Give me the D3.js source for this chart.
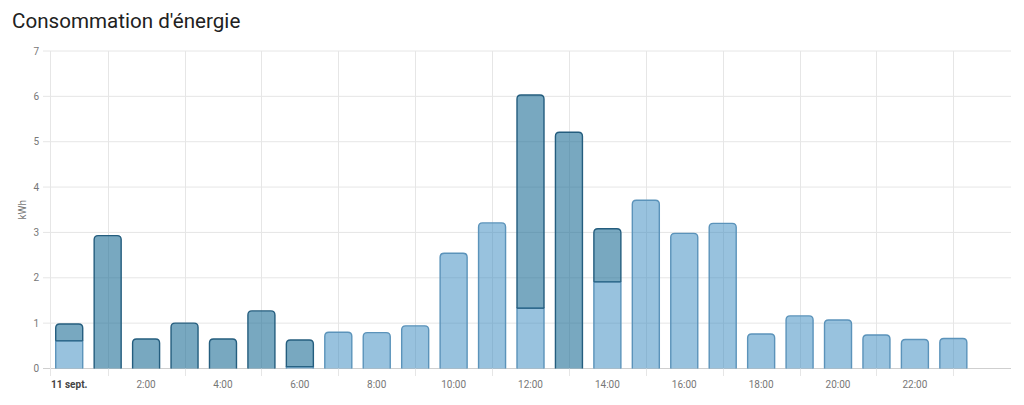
<!DOCTYPE html>
<html><head><meta charset="utf-8">
<script src="https://cdn.jsdelivr.net/npm/d3@7"></script>
<style>
html,body{margin:0;padding:0;background:#fff;}
svg{display:block;font-family:Roboto,"Noto Sans",sans-serif;}
</style></head>
<body>
<svg id="c" width="1024" height="405"></svg>
<script>
const title = "Consommation d'énergie";
const hours = d3.range(0, 24);
// light (lower) segment and dark (upper) segment values, kWh
const lightValues = [0.61, 0, 0, 0, 0, 0, 0.04, 0.80, 0.79, 0.94, 2.54, 3.21, 1.33, 0, 1.91, 3.71, 2.98, 3.20, 0.76, 1.16, 1.07, 0.74, 0.64, 0.66];
const darkValues  = [0.37, 2.93, 0.65, 1.00, 0.65, 1.27, 0.59, 0, 0, 0, 0, 0, 4.70, 5.21, 1.17, 0, 0, 0, 0, 0, 0, 0, 0, 0];
const yTicks = [0, 1, 2, 3, 4, 5, 6, 7];
const xTickHours = [0, 2, 4, 6, 8, 10, 12, 14, 16, 18, 20, 22];
const xTickLabels = ["11 sept.", "2:00", "4:00", "6:00", "8:00", "10:00", "12:00", "14:00", "16:00", "18:00", "20:00", "22:00"];
const gridHours = [-0.5, 1, 3, 5, 7, 9, 11, 13, 15, 17, 19, 21, 23];
const yLabel = "kWh";

const svg = d3.select("#c");
const x = d3.scaleLinear().domain([-0.5, 24.5]).range([50, 1011]);
const y = d3.scaleLinear().domain([0, 7]).range([368.5, 51]);
const barW = 27;

svg.append("text").attr("x", 12).attr("y", 28).attr("font-size", 20.6)
  .attr("fill", "#212121").text(title);

// horizontal grid
const gy = svg.append("g");
gy.selectAll("line").data(yTicks).join("line")
  .attr("x1", 43).attr("x2", 1011)
  .attr("y1", d => y(d)).attr("y2", d => y(d))
  .attr("stroke", d => d === 0 ? "#cfcfcf" : "#e6e6e6").attr("stroke-width", 1);
gy.selectAll("text").data(yTicks).join("text")
  .attr("x", 39).attr("y", d => y(d) + 3.5).attr("text-anchor", "end")
  .attr("font-size", 10).attr("fill", "#777").text(d => d);

// vertical grid
svg.append("g").selectAll("line").data(gridHours).join("line")
  .attr("x1", d => Math.round(x(d)) + 0.5).attr("x2", d => Math.round(x(d)) + 0.5)
  .attr("y1", 51).attr("y2", 376)
  .attr("stroke", "#e6e6e6").attr("stroke-width", 1);

svg.append("text").attr("transform", `translate(26,${(y(0)+y(7))/2}) rotate(-90)`)
  .attr("text-anchor", "middle").attr("font-size", 10).attr("fill", "#777").text(yLabel);

// x labels
svg.append("g").selectAll("text").data(xTickHours).join("text")
  .attr("x", d => x(d)).attr("y", 388).attr("text-anchor", "middle")
  .attr("font-size", 10)
  .attr("font-weight", (d, i) => i === 0 ? "bold" : "normal")
  .attr("fill", (d, i) => i === 0 ? "#444" : "#777")
  .text((d, i) => xTickLabels[i]);

function topRounded(x0, y0, w, h, r) {
  r = Math.min(r, h, w / 2);
  return `M${x0},${y0 + h} L${x0},${y0 + r} Q${x0},${y0} ${x0 + r},${y0} L${x0 + w - r},${y0} Q${x0 + w},${y0} ${x0 + w},${y0 + r} L${x0 + w},${y0 + h}`;
}

const data = hours.map((h, i) => ({ h, light: lightValues[i], dark: darkValues[i] }));
const bars = svg.append("g");
data.forEach(d => {
  const x0 = x(d.h) - barW / 2;
  if (d.light > 0) {
    const top = y(d.light), h = y(0) - top;
    const isTop = d.dark === 0;
    const path = isTop ? topRounded(x0, top, barW, h, 4) : `M${x0},${y(0)} L${x0},${top} L${x0 + barW},${top} L${x0 + barW},${y(0)}`;
    bars.append("path").attr("d", path + " Z").attr("fill", "rgba(49,133,189,0.5)").attr("stroke", "none");
    bars.append("path").attr("d", path).attr("fill", "none").attr("stroke", "#5b93ba").attr("stroke-width", 1.4);
  }
  if (d.dark > 0) {
    const top = y(d.light + d.dark), bottom = y(d.light), h = bottom - top;
    const path = topRounded(x0, top, barW, h, 4);
    bars.append("path").attr("d", path + " Z").attr("fill", "rgba(30,110,150,0.6)").attr("stroke", "none");
    bars.append("path").attr("d", path).attr("fill", "none").attr("stroke", "#245d7e").attr("stroke-width", 1.4);
    if (d.light > 0) {
      bars.append("line").attr("x1", x0).attr("x2", x0 + barW).attr("y1", bottom).attr("y2", bottom)
        .attr("stroke", "#245d7e").attr("stroke-width", 1.1);
    }
  }
});
</script>
</body></html>
